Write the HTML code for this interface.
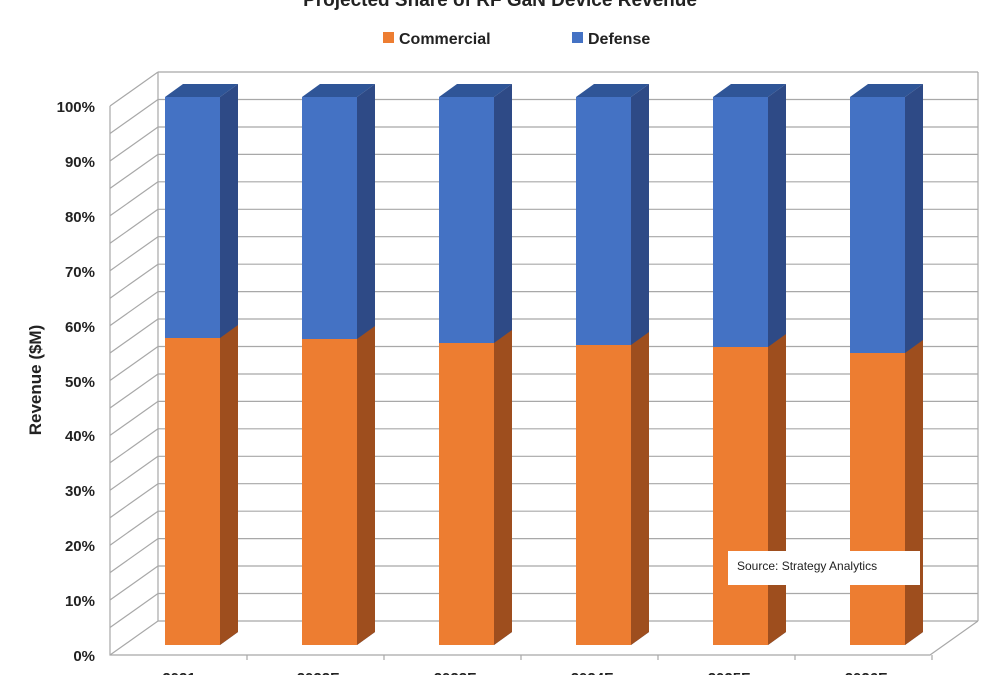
<!DOCTYPE html>
<html><head><meta charset="utf-8"><style>
body{margin:0;background:#fff;}
svg{display:block;font-family:"Liberation Sans",sans-serif;}
</style></head><body>
<svg width="1000" height="675" viewBox="0 0 1000 675">
<text x="500" y="6" text-anchor="middle" font-size="19" font-weight="bold" fill="#222">Projected Share of RF GaN Device Revenue</text>
<rect x="383" y="32" width="11" height="11" fill="#ED7D31"/>
<text x="399" y="44" font-size="16" font-weight="bold" fill="#222">Commercial</text>
<rect x="572" y="32" width="11" height="11" fill="#4472C4"/>
<text x="588" y="44" font-size="16" font-weight="bold" fill="#222">Defense</text>
<g stroke="#a8a8a8" stroke-width="1.2" fill="none">
<path d="M158 72H978M158 99.5H978M158 127H978M158 154.4H978M158 181.8H978M158 209.3H978M158 236.7H978M158 264.2H978M158 291.6H978M158 319H978M158 346.5H978M158 374H978M158 401.4H978M158 428.8H978M158 456.3H978M158 483.7H978M158 511.2H978M158 538.6H978M158 566H978M158 593.5H978M158 621H978"/>
<path d="M110 106L158 72M110 133.5L158 99.5M110 161L158 127M110 188.4L158 154.4M110 215.8L158 181.8M110 243.3L158 209.3M110 270.7L158 236.7M110 298.2L158 264.2M110 325.6L158 291.6M110 353L158 319M110 380.5L158 346.5M110 408L158 374M110 435.4L158 401.4M110 462.8L158 428.8M110 490.3L158 456.3M110 517.7L158 483.7M110 545.2L158 511.2M110 572.6L158 538.6M110 600L158 566M110 627.5L158 593.5M110 655L158 621"/>
<path d="M158 72V621M978 72V621M110 106V655H930L978 621"/>
<path d="M247 655v5M384 655v5M521 655v5M658 655v5M795 655v5M932 655v5"/>
</g>
<g font-size="15" font-weight="bold" fill="#222" text-anchor="end">
<text x="95" y="661">0%</text><text x="95" y="606">10%</text><text x="95" y="551">20%</text><text x="95" y="496">30%</text><text x="95" y="441">40%</text><text x="95" y="387">50%</text><text x="95" y="332">60%</text><text x="95" y="277">70%</text><text x="95" y="222">80%</text><text x="95" y="167">90%</text><text x="95" y="112">100%</text>
</g>
<text transform="translate(41,380) rotate(-90)" text-anchor="middle" font-size="17" font-weight="bold" fill="#222">Revenue ($M)</text>
<g>
<polygon points="165,97 183,84 238,84 220,97" fill="#2F5597"/>
<polygon points="220,97 238,84 238,632 220,645" fill="#2E4A86"/>
<rect x="165" y="97" width="55" height="241" fill="#4472C4"/>
<rect x="165" y="338" width="55" height="307" fill="#ED7D31"/>
<polygon points="220,338 238,325 238,632 220,645" fill="#9E4E1E"/>
</g>
<g>
<polygon points="302,97 320,84 375,84 357,97" fill="#2F5597"/>
<polygon points="357,97 375,84 375,632 357,645" fill="#2E4A86"/>
<rect x="302" y="97" width="55" height="242" fill="#4472C4"/>
<rect x="302" y="339" width="55" height="306" fill="#ED7D31"/>
<polygon points="357,339 375,326 375,632 357,645" fill="#9E4E1E"/>
</g>
<g>
<polygon points="439,97 457,84 512,84 494,97" fill="#2F5597"/>
<polygon points="494,97 512,84 512,632 494,645" fill="#2E4A86"/>
<rect x="439" y="97" width="55" height="246" fill="#4472C4"/>
<rect x="439" y="343" width="55" height="302" fill="#ED7D31"/>
<polygon points="494,343 512,330 512,632 494,645" fill="#9E4E1E"/>
</g>
<g>
<polygon points="576,97 594,84 649,84 631,97" fill="#2F5597"/>
<polygon points="631,97 649,84 649,632 631,645" fill="#2E4A86"/>
<rect x="576" y="97" width="55" height="248" fill="#4472C4"/>
<rect x="576" y="345" width="55" height="300" fill="#ED7D31"/>
<polygon points="631,345 649,332 649,632 631,645" fill="#9E4E1E"/>
</g>
<g>
<polygon points="713,97 731,84 786,84 768,97" fill="#2F5597"/>
<polygon points="768,97 786,84 786,632 768,645" fill="#2E4A86"/>
<rect x="713" y="97" width="55" height="250" fill="#4472C4"/>
<rect x="713" y="347" width="55" height="298" fill="#ED7D31"/>
<polygon points="768,347 786,334 786,632 768,645" fill="#9E4E1E"/>
</g>
<g>
<polygon points="850,97 868,84 923,84 905,97" fill="#2F5597"/>
<polygon points="905,97 923,84 923,632 905,645" fill="#2E4A86"/>
<rect x="850" y="97" width="55" height="256" fill="#4472C4"/>
<rect x="850" y="353" width="55" height="292" fill="#ED7D31"/>
<polygon points="905,353 923,340 923,632 905,645" fill="#9E4E1E"/>
</g>
<rect x="728" y="551" width="192" height="34" fill="#fff"/>
<text x="737" y="570" font-size="12" fill="#222">Source: Strategy Analytics</text>
<g font-size="15" font-weight="bold" fill="#222" text-anchor="middle">
<text x="179" y="683">2021</text><text x="318" y="683">2022F</text><text x="455" y="683">2023F</text><text x="592" y="683">2024F</text><text x="729" y="683">2025F</text><text x="866" y="683">2026F</text>
</g>
</svg>
</body></html>
